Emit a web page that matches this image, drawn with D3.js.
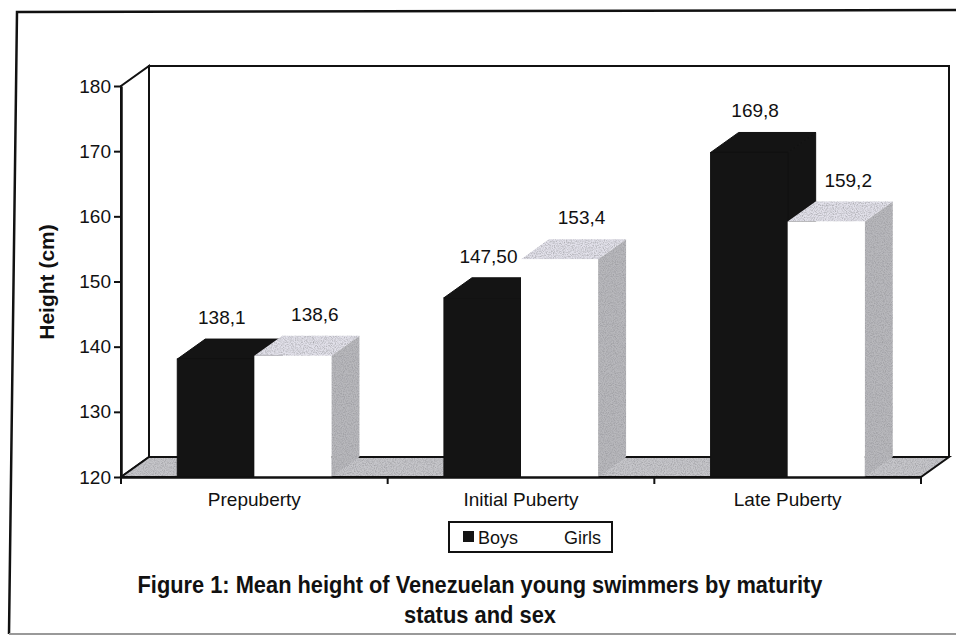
<!DOCTYPE html>
<html>
<head>
<meta charset="utf-8">
<script src="https://cdn.jsdelivr.net/npm/d3@7"></script>
<style>
  body { margin: 0; background: #fff; }
  svg { display: block; font-family: "Liberation Sans", Arial, sans-serif; }
</style>
</head>
<body>
<div id="chart"></div>
<script>
const categories = ['Prepuberty', 'Initial Puberty', 'Late Puberty'];
const series = ['Boys', 'Girls'];
const boys = [138.1, 147.5, 169.8];
const girls = [138.6, 153.4, 159.2];
const boysLabels = ['138,1', '147,50', '169,8'];
const girlsLabels = ['138,6', '153,4', '159,2'];
const yTicks = [120, 130, 140, 150, 160, 170, 180];

const width = 956;
const height = 637;
const DX = 28;   // 3d depth offset
const DY = -20;

const svg = d3.select('#chart').append('svg')
  .attr('width', width)
  .attr('height', height);

// grainy texture like the scanned print
const defs = svg.append('defs');
const grain = defs.append('filter').attr('id', 'grain')
  .attr('x', 0).attr('y', 0).attr('width', 1).attr('height', 1);
grain.append('feTurbulence')
  .attr('type', 'fractalNoise').attr('baseFrequency', 0.9)
  .attr('numOctaves', 2).attr('seed', 3).attr('result', 'noise');
grain.append('feColorMatrix')
  .attr('in', 'noise').attr('type', 'matrix')
  .attr('values', '0 0 0 0 0.3  0 0 0 0 0.3  0 0 0 0 0.32  0 0 0 -1.6 1.0')
  .attr('result', 'dots');
grain.append('feComposite')
  .attr('in', 'dots').attr('in2', 'SourceGraphic').attr('operator', 'in')
  .attr('result', 'dotsIn');
grain.append('feMerge').selectAll('feMergeNode')
  .data(['SourceGraphic', 'dotsIn'])
  .join('feMergeNode').attr('in', d => d);

// paper frame (scanned page border)
svg.append('path')
  .attr('d', 'M956,10 L17,12 L9,634')
  .attr('fill', 'none').attr('stroke', '#111').attr('stroke-width', 2.5);
svg.append('line')
  .attr('x1', 9).attr('x2', 956).attr('y1', 634).attr('y2', 634)
  .attr('stroke', '#999').attr('stroke-width', 2);

const y = d3.scaleLinear().domain([120, 180]).range([477, 86]);
const x = d3.scaleBand().domain(categories).range([121, 921]);
const xs = d3.scaleBand().domain(series).range([0, x.bandwidth()]).paddingOuter(0.73);

const [x0, x1] = x.range();
const yBase = y(120);
const yTop = y(180);

// left side wall, back wall, floor
svg.append('path')
  .attr('d', `M${x0},${yBase} L${x0},${yTop} L${x0 + DX},${yTop + DY} L${x0 + DX},${yBase + DY} Z`)
  .attr('fill', '#fff').attr('stroke', '#111').attr('stroke-width', 2);
svg.append('path')
  .attr('d', `M${x0 + DX},${yBase + DY} L${x0 + DX},${yTop + DY} L${x1 + DX},${yTop + DY} L${x1 + DX},${yBase + DY}`)
  .attr('fill', '#fff').attr('stroke', '#111').attr('stroke-width', 2);
svg.append('path')
  .attr('d', `M${x0},${yBase} L${x0 + DX},${yBase + DY} L${x1 + DX},${yBase + DY} L${x1},${yBase} Z`)
  .attr('fill', '#c6c6ca').attr('filter', 'url(#grain)');
svg.append('path')
  .attr('d', `M${x0},${yBase} L${x0 + DX},${yBase + DY} L${x1 + DX},${yBase + DY} L${x1},${yBase} Z`)
  .attr('fill', 'none').attr('stroke', '#111').attr('stroke-width', 2);

const colors = {
  Boys: { front: '#141414', top: '#141414', side: '#141414', stroke: '#111', grain: false },
  Girls: { front: '#ffffff', top: '#e2e1ea', side: '#b8b8bc', stroke: 'none', grain: true }
};

const bars = [];
categories.forEach((c, i) => {
  bars.push({ cat: c, s: 'Boys', v: boys[i], label: boysLabels[i] });
  bars.push({ cat: c, s: 'Girls', v: girls[i], label: girlsLabels[i] });
});

const g = svg.append('g');
bars.forEach(d => {
  const bx = x(d.cat) + xs(d.s);
  const bw = xs.bandwidth();
  const ty = y(d.v);
  const col = colors[d.s];
  // side face
  g.append('path')
    .attr('d', `M${bx + bw},${yBase} L${bx + bw},${ty} L${bx + bw + DX},${ty + DY} L${bx + bw + DX},${yBase + DY} Z`)
    .attr('fill', col.side).attr('stroke', col.stroke)
    .attr('filter', col.grain ? 'url(#grain)' : null);
  // top face
  g.append('path')
    .attr('d', `M${bx},${ty} L${bx + DX},${ty + DY} L${bx + bw + DX},${ty + DY} L${bx + bw},${ty} Z`)
    .attr('fill', col.top).attr('stroke', col.stroke)
    .attr('filter', col.grain ? 'url(#grain)' : null);
  // front face
  g.append('rect')
    .attr('x', bx).attr('y', ty).attr('width', bw).attr('height', yBase - ty)
    .attr('fill', col.front).attr('stroke', col.stroke);
});

// value labels
svg.append('g').selectAll('text')
  .data(bars)
  .join('text')
  .attr('x', d => x(d.cat) + xs(d.s) + xs.bandwidth() / 2 + (d.s === 'Boys' ? 6 : 22))
  .attr('y', d => y(d.v) + DY - 15)
  .attr('text-anchor', 'middle')
  .attr('font-size', 19)
  .attr('fill', '#111')
  .text(d => d.label);

// y axis
const yAxis = svg.append('g')
  .attr('transform', `translate(${x0},0)`)
  .call(d3.axisLeft(y).tickValues(yTicks).tickSize(7).tickSizeOuter(0).tickPadding(3));
yAxis.select('.domain').attr('stroke', '#111').attr('stroke-width', 2.5);
yAxis.selectAll('.tick line').attr('stroke', '#111').attr('stroke-width', 2);
yAxis.selectAll('.tick text').attr('font-size', 19).attr('fill', '#111')
  .attr('font-family', '"Liberation Sans", Arial, sans-serif');

// x axis: labels at band centres, ticks at band edges
const xAxis = svg.append('g')
  .attr('transform', `translate(0,${yBase})`)
  .call(d3.axisBottom(x).tickSize(0).tickSizeOuter(0).tickPadding(16));
xAxis.select('.domain').attr('stroke', '#111').attr('stroke-width', 2.5);
xAxis.selectAll('.tick text').attr('font-size', 19).attr('fill', '#111')
  .attr('font-family', '"Liberation Sans", Arial, sans-serif');
const edges = categories.map(c => x(c)).concat([x1]);
xAxis.selectAll('.edge')
  .data(edges)
  .join('line')
  .attr('class', 'edge')
  .attr('x1', d => d).attr('x2', d => d)
  .attr('y1', 0).attr('y2', 7)
  .attr('stroke', '#111').attr('stroke-width', 2);

// y axis title
svg.append('text')
  .attr('transform', 'translate(54,282) rotate(-90)')
  .attr('text-anchor', 'middle')
  .attr('font-size', 21)
  .attr('font-weight', 'bold')
  .attr('fill', '#111')
  .text('Height (cm)');

// legend
const legend = svg.append('g').attr('transform', 'translate(449,522)');
legend.append('rect')
  .attr('width', 163).attr('height', 30)
  .attr('fill', '#fff').attr('stroke', '#111').attr('stroke-width', 2);
const legendX = d3.scalePoint().domain(series).range([14, 100]);
const items = legend.selectAll('.item')
  .data(series)
  .join('g')
  .attr('class', 'item')
  .attr('transform', d => `translate(${legendX(d)},0)`);
items.append('rect')
  .attr('y', 9).attr('width', 11).attr('height', 11)
  .attr('fill', d => colors[d].front);
items.append('text')
  .attr('x', 15).attr('y', 22)
  .attr('font-size', 18).attr('fill', '#111')
  .text(d => d);

// caption
const caption = svg.append('g')
  .attr('font-size', 23).attr('font-weight', 'bold').attr('fill', '#111')
  .attr('text-anchor', 'middle');
caption.append('text').attr('x', 480).attr('y', 593)
  .attr('textLength', 685).attr('lengthAdjust', 'spacingAndGlyphs')
  .text('Figure 1: Mean height of Venezuelan young swimmers by maturity');
caption.append('text').attr('x', 480).attr('y', 623)
  .attr('textLength', 152).attr('lengthAdjust', 'spacingAndGlyphs')
  .text('status and sex');
</script>
</body>
</html>
